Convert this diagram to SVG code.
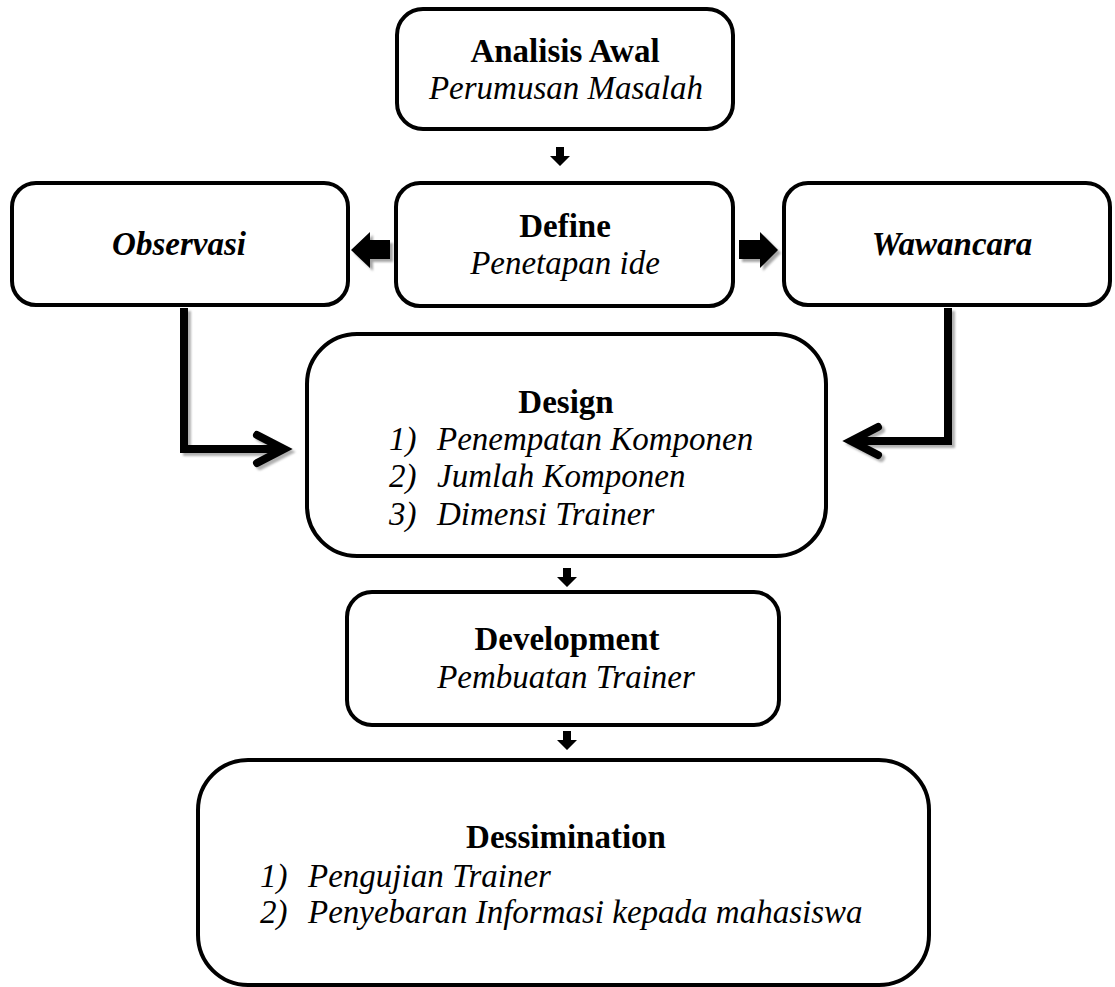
<svg xmlns="http://www.w3.org/2000/svg" width="1115" height="987" viewBox="0 0 1115 987">
<defs>
<style>
.box{fill:#fff;stroke:#000;stroke-width:4}
.t{font-family:"Liberation Serif","Times New Roman",serif;font-size:33px;fill:#000}
.b{font-weight:bold}
.i{font-style:italic}
.sh{fill:#a6a6a6}
.ln{fill:none;stroke:#000;stroke-width:8;stroke-linejoin:miter}
.lnsh{fill:none;stroke:#b0b0b0;stroke-width:8;stroke-linejoin:miter}
.chev{fill:none;stroke:#000;stroke-width:8;stroke-linecap:round;stroke-linejoin:miter}
.chevsh{fill:none;stroke:#b0b0b0;stroke-width:8;stroke-linecap:round;stroke-linejoin:miter}
</style>
<filter id="blur" x="-20%" y="-20%" width="140%" height="140%"><feGaussianBlur stdDeviation="1"/></filter>
</defs>
<rect width="1115" height="987" fill="#fff"/>

<g id="connectors">
  <path d="M556,147 h8 v9 h6 l-10,10 l-10,-10 h6 z" fill="#000"/>
  <path d="M563,568 h8 v9 h6 l-10,10 l-10,-10 h6 z" fill="#000"/>
  <path d="M563,731 h8 v9 h6 l-10,10 l-10,-10 h6 z" fill="#000"/>
  <path class="sh" filter="url(#blur)" d="M393,243 v19 h-20 v9 l-19,-18 l19,-18 v8 z"/>
  <path d="M390,240 v19 h-20 v9 l-19,-18 l19,-18 v8 z" fill="#000"/>
  <path class="sh" filter="url(#blur)" d="M742,243 v19 h21 v9 l18,-18 l-18,-18 v8 z"/>
  <path d="M739,240 v19 h21 v9 l18,-18 l-18,-18 v8 z" fill="#000"/>
  <g filter="url(#blur)" transform="translate(3,3)">
    <path class="lnsh" d="M184,308 V449 H283"/>
    <path class="chevsh" d="M257,435 L284,449 L257,463"/>
  </g>
  <path class="ln" d="M184,308 V449 H283"/>
  <path class="chev" d="M257,435 L284,449 L257,463"/>
  <g filter="url(#blur)" transform="translate(3,3)">
    <path class="lnsh" d="M948,308 V441 H852"/>
    <path class="chevsh" d="M878,427 L851,441 L878,455"/>
  </g>
  <path class="ln" d="M948,308 V441 H852"/>
  <path class="chev" d="M878,427 L851,441 L878,455"/>
</g>

<g id="analisis">
  <rect class="box" x="397" y="9" width="336" height="120" rx="26"/>
  <text class="t b" x="565" y="62" text-anchor="middle">Analisis Awal</text>
  <text class="t i" x="566" y="99" text-anchor="middle">Perumusan Masalah</text>
</g>

<g id="define">
  <rect class="box" x="396" y="183" width="337" height="123" rx="24"/>
  <text class="t b" x="565" y="237" text-anchor="middle">Define</text>
  <text class="t i" x="565" y="274" text-anchor="middle">Penetapan ide</text>
</g>

<g id="observasi">
  <rect class="box" x="12" y="183" width="336" height="122" rx="24"/>
  <text class="t b i" x="179" y="255" text-anchor="middle">Observasi</text>
</g>

<g id="wawancara">
  <rect class="box" x="784" y="183" width="326" height="122" rx="24"/>
  <text class="t b i" x="952" y="255" text-anchor="middle">Wawancara</text>
</g>

<g id="design">
  <rect class="box" x="307" y="334" width="519" height="222" rx="50"/>
  <text class="t b" x="566" y="413" text-anchor="middle">Design</text>
  <text class="t i" x="389" y="450">1)</text>
  <text class="t i" x="437" y="450">Penempatan Komponen</text>
  <text class="t i" x="389" y="487">2)</text>
  <text class="t i" x="437" y="487">Jumlah Komponen</text>
  <text class="t i" x="389" y="525">3)</text>
  <text class="t i" x="437" y="525">Dimensi Trainer</text>
</g>

<g id="development">
  <rect class="box" x="347" y="592" width="432" height="133" rx="25"/>
  <text class="t b" x="567" y="650" text-anchor="middle">Development</text>
  <text class="t i" x="566" y="688" text-anchor="middle">Pembuatan Trainer</text>
</g>

<g id="dessimination">
  <rect class="box" x="198" y="760" width="731" height="225" rx="50"/>
  <text class="t b" x="566" y="848" text-anchor="middle">Dessimination</text>
  <text class="t i" x="260" y="887">1)</text>
  <text class="t i" x="308" y="887">Pengujian Trainer</text>
  <text class="t i" x="260" y="923">2)</text>
  <text class="t i" x="308" y="923">Penyebaran Informasi kepada mahasiswa</text>
</g>
</svg>
